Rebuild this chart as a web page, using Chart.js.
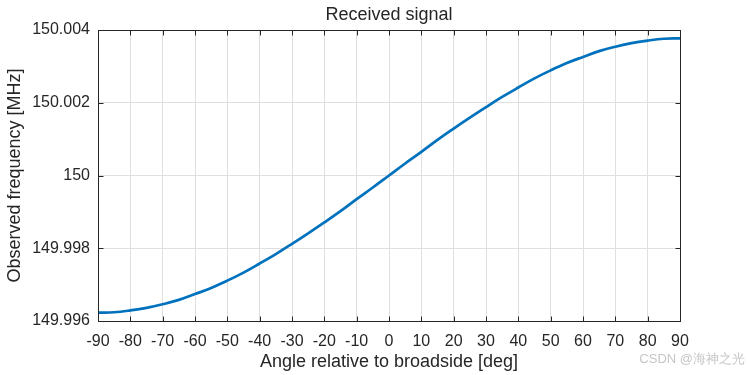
<!DOCTYPE html>
<html>
<head>
<meta charset="utf-8">
<script src="https://cdn.jsdelivr.net/npm/chart.js@4/dist/chart.umd.min.js"></script>
<style>
html,body{margin:0;padding:0;background:#fff;}
canvas{display:block;}
</style>
</head>
<body>
<canvas id="c" width="750" height="375"></canvas>
<script>
const chartTitle = "Received signal";
const xAxisTitle = "Angle relative to broadside [deg]";
const yAxisTitle = "Observed frequency [MHz]";
const watermark = "CSDN @海神之光";

const angles = [-90,-85,-80,-75,-70,-65,-60,-55,-50,-45,-40,-35,-30,-25,-20,-15,-10,-5,0,5,10,15,20,25,30,35,40,45,50,55,60,65,70,75,80,85,90];
const frequency = [
  149.99623,149.99624,149.99629,149.99636,149.99646,149.99658,149.99674,149.99691,149.99711,
  149.99733,149.99758,149.99784,149.99812,149.99841,149.99871,149.99902,149.99935,149.99967,
  150.00000,
  150.00033,150.00065,150.00098,150.00129,150.00159,150.00188,150.00216,150.00242,150.00267,
  150.00289,150.00309,150.00326,150.00342,150.00354,150.00364,150.00371,150.00376,150.00377
];
const xTicks = [-90,-80,-70,-60,-50,-40,-30,-20,-10,0,10,20,30,40,50,60,70,80,90];
const yTicks = [149.996,149.998,150,150.002,150.004];
const yTickLabels = ["149.996","149.998","150","150.002","150.004"];

const INK = '#262626';
const GRID = '#dfdfdf';
const FONT = "'Liberation Sans', Arial, sans-serif";

const boxPlugin = {
  id: 'boxPlugin',
  afterDraw(chart) {
    const ctx = chart.ctx;
    const a = chart.chartArea;
    const xs = chart.scales.x, ys = chart.scales.y;
    ctx.save();
    ctx.strokeStyle = INK;
    ctx.lineWidth = 1;
    const L = Math.round(a.left) + 0.5, R = Math.round(a.right) + 0.5;
    const T = Math.round(a.top) + 0.5, B = Math.round(a.bottom) + 0.5;
    ctx.strokeRect(L, T, R - L, B - T);
    const tl = 5;
    ctx.beginPath();
    xTicks.forEach(v => {
      const px = Math.round(xs.getPixelForValue(v)) + 0.5;
      ctx.moveTo(px, B); ctx.lineTo(px, B - tl);
      ctx.moveTo(px, T); ctx.lineTo(px, T + tl);
    });
    yTicks.forEach(v => {
      const py = Math.round(ys.getPixelForValue(v)) + 0.5;
      ctx.moveTo(L, py); ctx.lineTo(L + tl, py);
      ctx.moveTo(R, py); ctx.lineTo(R - tl, py);
    });
    ctx.stroke();
    ctx.fillStyle = INK;
    ctx.font = "18px " + FONT;
    ctx.textAlign = 'center';
    ctx.textBaseline = 'middle';
    ctx.fillText(chartTitle, (a.left + a.right) / 2, 15);
    ctx.fillStyle = '#c6c6c6';
    ctx.font = "13px " + FONT;
    ctx.textAlign = 'right';
    ctx.fillText(watermark, 745, 359);
    ctx.restore();
  }
};

new Chart(document.getElementById('c'), {
  type: 'line',
  data: {
    datasets: [{
      data: angles.map((a, i) => ({x: a, y: frequency[i]})),
      borderColor: '#0072BD',
      borderWidth: 2.7,
      pointRadius: 0,
      fill: false,
      tension: 0.4
    }]
  },
  options: {
    responsive: false,
    animation: false,
    devicePixelRatio: 1,
    layout: {padding: {top: 30, right: 70, left: 0, bottom: 0}},
    plugins: {legend: {display: false}, tooltip: {enabled: false}, title: {display: false}},
    scales: {
      x: {
        type: 'linear',
        min: -90, max: 90,
        afterBuildTicks: s => { s.ticks = xTicks.map(v => ({value: v})); },
        afterFit: s => { s.height = 54; },
        border: {display: false},
        grid: {color: GRID, drawTicks: false, lineWidth: 1},
        ticks: {color: INK, font: {size: 16, family: FONT}, padding: 11, maxRotation: 0, autoSkip: false,
                callback: v => String(v)},
        title: {display: true, text: xAxisTitle, color: INK, font: {size: 18, family: FONT}, padding: {top: 0, bottom: 2}}
      },
      y: {
        type: 'linear',
        min: 149.996, max: 150.004,
        afterBuildTicks: s => { s.ticks = yTicks.map(v => ({value: v})); },
        afterFit: s => { s.width = 98; },
        border: {display: false},
        grid: {color: GRID, drawTicks: false, lineWidth: 1},
        ticks: {color: INK, font: {size: 16, family: FONT}, padding: 8, autoSkip: false,
                callback: (v, i) => yTickLabels[i]},
        title: {display: true, text: yAxisTitle, color: INK, font: {size: 18, family: FONT}, padding: {top: 4, bottom: 0}}
      }
    }
  },
  plugins: [boxPlugin]
});
</script>
</body>
</html>
